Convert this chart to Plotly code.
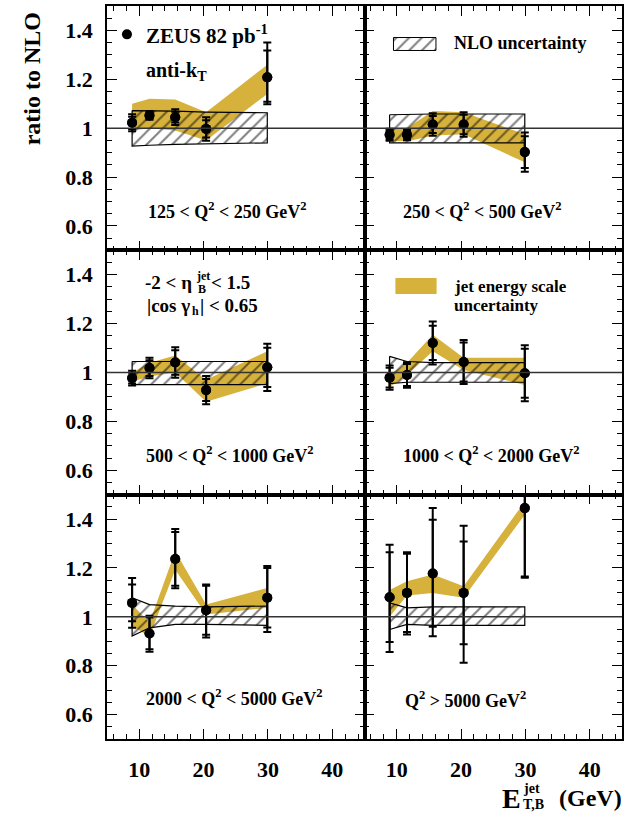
import plotly.graph_objects as go
from plotly.subplots import make_subplots

# ---------------- data ----------------
ET = [8.9, 11.6, 15.6, 20.4, 29.9]

q2_labels = [
    "125 < Q<sup>2</sup> < 250 GeV<sup>2</sup>",
    "250 < Q<sup>2</sup> < 500 GeV<sup>2</sup>",
    "500 < Q<sup>2</sup> < 1000 GeV<sup>2</sup>",
    "1000 < Q<sup>2</sup> < 2000 GeV<sup>2</sup>",
    "2000 < Q<sup>2</sup> < 5000 GeV<sup>2</sup>",
    "Q<sup>2</sup> > 5000 GeV<sup>2</sup>",
]

ratio = [
    [1.022, 1.052, 1.045, 0.997, 1.208],
    [0.973, 0.973, 1.015, 1.015, 0.902],
    [0.977, 1.018, 1.041, 0.928, 1.021],
    [0.979, 0.990, 1.121, 1.043, 0.997],
    [1.057, 0.932, 1.237, 1.027, 1.078],
    [1.080, 1.098, 1.177, 1.098, 1.445],
]
tot_up = [
    [0.035, 0.018, 0.032, 0.048, 0.143],
    [0.025, 0.022, 0.046, 0.050, 0.080],
    [0.030, 0.042, 0.062, 0.058, 0.097],
    [0.050, 0.052, 0.088, 0.090, 0.115],
    [0.102, 0.072, 0.122, 0.105, 0.130],
    [0.215, 0.166, 0.268, 0.275, 0.100],
]
tot_dn = [
    [0.035, 0.018, 0.032, 0.048, 0.110],
    [0.025, 0.022, 0.046, 0.050, 0.080],
    [0.030, 0.042, 0.062, 0.058, 0.097],
    [0.050, 0.052, 0.088, 0.090, 0.115],
    [0.102, 0.075, 0.120, 0.112, 0.140],
    [0.224, 0.170, 0.256, 0.286, 0.285],
]
stat_up = [
    [0.025, 0.012, 0.022, 0.035, 0.110],
    [0.018, 0.016, 0.035, 0.040, 0.065],
    [0.022, 0.032, 0.050, 0.045, 0.080],
    [0.040, 0.045, 0.070, 0.080, 0.100],
    [0.075, 0.065, 0.110, 0.100, 0.122],
    [0.184, 0.160, 0.220, 0.210, 0.080],
]
stat_dn = [
    [0.025, 0.012, 0.022, 0.035, 0.100],
    [0.018, 0.016, 0.035, 0.040, 0.065],
    [0.022, 0.032, 0.050, 0.045, 0.080],
    [0.040, 0.045, 0.070, 0.080, 0.100],
    [0.075, 0.065, 0.110, 0.100, 0.122],
    [0.183, 0.160, 0.218, 0.210, 0.280],
]
nlo_up = [
    [1.072, 1.072, 1.070, 1.066, 1.063],
    [1.055, 1.057, 1.058, 1.058, 1.058],
    [1.045, 1.045, 1.045, 1.045, 1.045],
    [1.066, 1.045, 1.040, 1.040, 1.040],
    [1.078, 1.050, 1.044, 1.041, 1.044],
    [1.057, 1.037, 1.041, 1.041, 1.041],
]
nlo_lo = [
    [0.927, 0.930, 0.934, 0.937, 0.940],
    [0.940, 0.940, 0.940, 0.940, 0.940],
    [0.950, 0.950, 0.950, 0.950, 0.950],
    [0.955, 0.960, 0.960, 0.960, 0.960],
    [0.921, 0.955, 0.969, 0.969, 0.965],
    [0.948, 0.969, 0.965, 0.965, 0.965],
]
jes_up = [
    [1.100, 1.120, 1.117, 1.065, 1.260],
    [1.000, 1.000, 1.070, 1.065, 0.975],
    [1.000, 1.040, 1.070, 0.970, 1.087],
    [0.990, 1.040, 1.155, 1.060, 1.060],
    [1.050, 0.976, 1.268, 1.050, 1.118],
    [1.110, 1.146, 1.173, 1.125, 1.472],
]
jes_lo = [
    [0.990, 1.000, 0.990, 0.950, 1.140],
    [0.950, 0.945, 0.970, 0.975, 0.860],
    [0.963, 0.984, 1.000, 0.880, 0.956],
    [0.940, 0.990, 1.087, 1.010, 0.949],
    [0.962, 0.920, 1.193, 1.010, 1.037],
    [1.000, 1.087, 1.098, 1.078, 1.418],
]

# ---------------- style ----------------
YEL = "#d6b23c"
FONT = "Liberation Serif"
W, H = 628, 814
ML, MR, MT, MB = 107, 4, 6, 75
HATCH = dict(shape="/", fgcolor="black", bgcolor="rgba(0,0,0,0)",
             size=9, solidity=0.22)


def px(xp):
    return (xp - ML) / (W - ML - MR)


def py(yp):
    return 1 - (yp - MT) / (H - MT - MB)


fig = make_subplots(rows=3, cols=2, horizontal_spacing=0, vertical_spacing=0)

for i in range(6):
    r, c = i // 2 + 1, i % 2 + 1
    # jet energy scale band
    fig.add_trace(go.Scatter(
        x=ET + ET[::-1], y=jes_up[i] + jes_lo[i][::-1],
        fill="toself", fillcolor=YEL, mode="lines", line=dict(width=0),
        hoverinfo="skip"), row=r, col=c)
    # NLO uncertainty (hatched)
    fig.add_trace(go.Scatter(
        x=ET + ET[::-1] + [ET[0]],
        y=nlo_up[i] + nlo_lo[i][::-1] + [nlo_up[i][0]],
        fill="toself", fillcolor="rgba(0,0,0,0)", fillpattern=HATCH,
        mode="lines", line=dict(color="black", width=1.2),
        hoverinfo="skip"), row=r, col=c)
    # total uncertainty
    fig.add_trace(go.Scatter(
        x=ET, y=ratio[i], mode="markers",
        marker=dict(size=10, color="black"),
        error_y=dict(type="data", symmetric=False, array=tot_up[i],
                     arrayminus=tot_dn[i], color="black", thickness=2, width=4)),
        row=r, col=c)
    # statistical uncertainty
    fig.add_trace(go.Scatter(
        x=ET, y=ratio[i], mode="markers",
        marker=dict(size=10, color="black"),
        error_y=dict(type="data", symmetric=False, array=stat_up[i],
                     arrayminus=stat_dn[i], color="black", thickness=2, width=4)),
        row=r, col=c)
    fig.add_hline(y=1, line=dict(color="#333333", width=1.5), row=r, col=c)

# legend swatches (panel coordinates)
fig.add_trace(go.Scatter(x=[8.1], y=[1.384], mode="markers",
                         marker=dict(size=10, color="black"), hoverinfo="skip"),
              row=1, col=1)
fig.add_trace(go.Scatter(
    x=[9.5, 16.1, 16.1, 9.5, 9.5], y=[1.318, 1.318, 1.371, 1.371, 1.318],
    fill="toself", fillcolor="rgba(0,0,0,0)", fillpattern=HATCH,
    mode="lines", line=dict(color="black", width=1), hoverinfo="skip"),
    row=1, col=2)
fig.add_trace(go.Scatter(
    x=[9.8, 16.2, 16.2, 9.8, 9.8], y=[1.321, 1.321, 1.387, 1.387, 1.321],
    fill="toself", fillcolor=YEL, mode="lines", line=dict(width=0),
    hoverinfo="skip"), row=2, col=2)

axis_common = dict(showline=True, linecolor="black", linewidth=1.5,
                   mirror="allticks", ticks="inside", tickcolor="black",
                   ticklen=10, tickwidth=1.2, showgrid=False, zeroline=False,
                   tickfont=dict(family=FONT, size=22, color="black", weight="bold"))
fig.update_xaxes(range=[5, 45], tick0=0, dtick=10,
                 minor=dict(dtick=2, tick0=0, ticklen=5, ticks="inside",
                            tickcolor="black", tickwidth=1),
                 ticklabelstandoff=10, **axis_common)
fig.update_yaxes(range=[0.5, 1.5], tick0=0.6, dtick=0.2,
                 minor=dict(dtick=0.05, tick0=0.5, ticklen=5, ticks="inside",
                            tickcolor="black", tickwidth=1),
                 ticklabelstandoff=8, **axis_common)
for r in (1, 2):
    for c in (1, 2):
        fig.update_xaxes(showticklabels=False, row=r, col=c)
for r in (1, 2, 3):
    fig.update_yaxes(showticklabels=False, row=r, col=2)

ann = []


def add_text(text, x, y, size, xanchor="left", yanchor="middle", angle=0):
    ann.append(dict(text=text, x=x, y=y, xref="paper", yref="paper",
                    xanchor=xanchor, yanchor=yanchor, showarrow=False,
                    textangle=angle, align="left",
                    font=dict(family=FONT, size=size, color="black", weight="bold")))


# Q2 labels
q2_pos = [(146, 211), (402, 211), (144, 454), (402, 454), (144, 697), (404, 699)]
for lab, (xp, yp) in zip(q2_labels, q2_pos):
    add_text(lab, px(xp), py(yp), 18)

add_text("ZEUS 82 pb<sup>-1</sup>", px(144), py(34), 21)
add_text("anti-k<sub>T</sub>", px(144), py(72), 20)
add_text("NLO uncertainty", px(453), py(43), 18)
add_text("jet energy scale", px(453), py(286), 17)
add_text("uncertainty", px(453), py(305), 17)
add_text("-2 < η", px(194), py(282), 19, xanchor="right")
add_text("jet", px(194), py(276), 12)
add_text("B", px(196), py(289), 12)
add_text("< 1.5", px(209), py(282), 19)
add_text("|cos γ", px(145), py(305), 19)
add_text("h", px(190), py(311), 12)
add_text("| < 0.65", px(198), py(305), 19)

add_text("ratio to NLO", px(32), py(79), 24, xanchor="center", angle=-90)
add_text("E", px(513), py(798), 28, xanchor="center")
add_text("jet", px(523), py(788), 14)
add_text("T,B", px(523), py(804), 14)
add_text("(GeV)", px(626), py(798), 24, xanchor="right")

fig.update_layout(
    width=W, height=H, margin=dict(l=ML, r=MR, t=MT, b=MB),
    showlegend=False, plot_bgcolor="white", paper_bgcolor="white",
    annotations=ann,
    font=dict(family=FONT, color="black"),
)

fig.write_html("out.html")
